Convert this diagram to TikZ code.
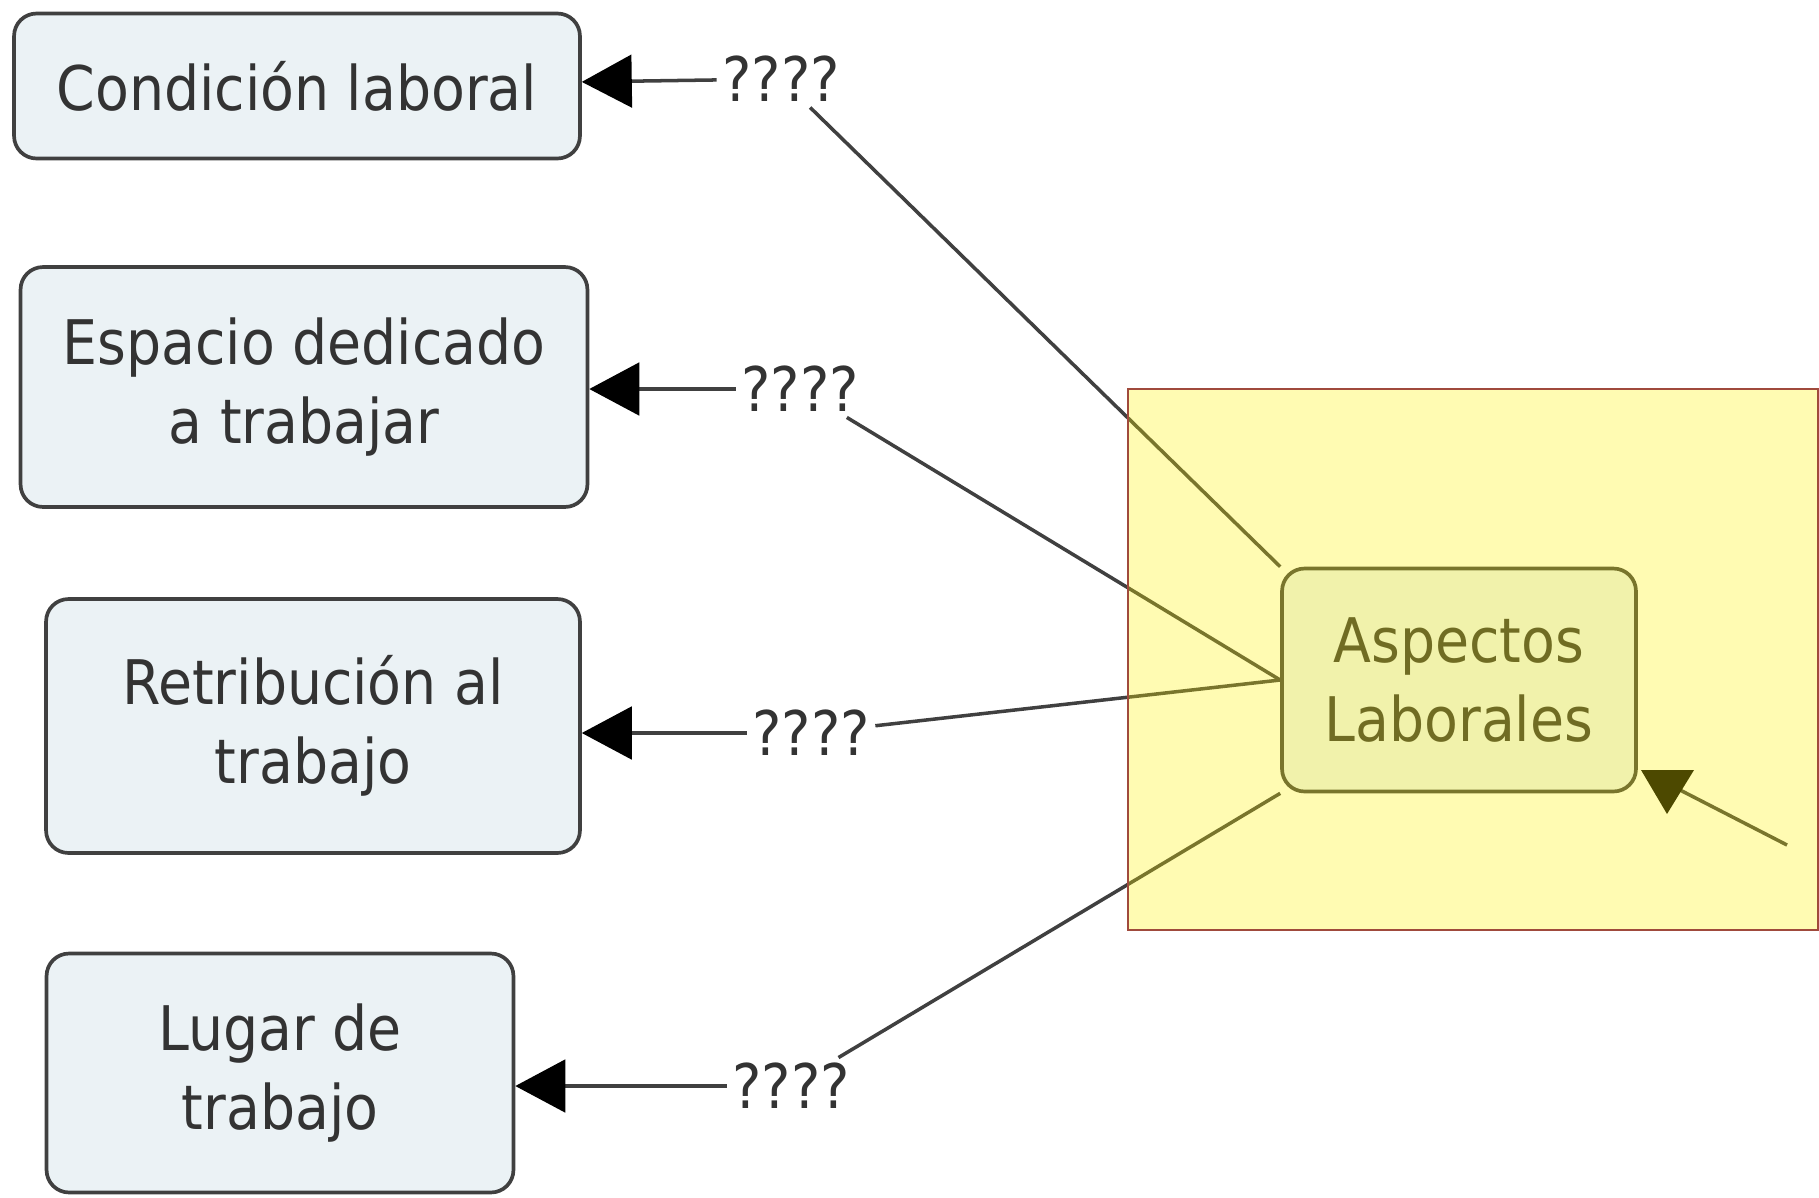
\documentclass[tikz,border=0pt]{standalone}
\usepackage{fontspec}
\setmainfont{DejaVu Sans Condensed}
\usetikzlibrary{arrows.meta}
\definecolor{boxfill}{HTML}{EBF2F5}
\definecolor{boxline}{HTML}{404040}
\definecolor{txtgray}{HTML}{333333}
\definecolor{framered}{HTML}{A04A3C}
\tikzset{
  concept/.style={draw=boxline, fill=boxfill, line width=2.1pt, rounded corners=0.45cm,
    align=center, text=txtgray, font=\fontsize{35}{45}\selectfont},
  linkword/.style={fill=white, inner sep=3pt, text=txtgray, font=\fontsize{35}{45}\selectfont},
  link/.style={draw=boxline, line width=2pt},
  linkarrow/.style={link, -{Triangle[length=1cm,width=1.05cm,fill=black,color=black]}},
}
\begin{document}
\begin{tikzpicture}[x=0.02cm, y=-0.02cm]
    \useasboundingbox (0,0) rectangle (1819,1197);

    % concepts on the left
    \node[concept, minimum width=11.32cm, minimum height=2.9cm] (cond) at (297,86) {Condición laboral};
    \node[concept, minimum width=11.34cm, minimum height=4.8cm] (espacio) at (304,387) {Espacio dedicado\\a trabajar};
    \node[concept, minimum width=10.68cm, minimum height=5.08cm] (retrib) at (313,726) {Retribución al\\trabajo};
    \node[concept, minimum width=9.34cm, minimum height=4.78cm] (lugar) at (280,1073) {Lugar de\\trabajo};

    % main concept
    \node[concept, minimum width=7.08cm, minimum height=4.46cm] (asp) at (1459,680) {Aspectos\\Laborales};

    % linking words
    \node[linkword] (q1) at (781,79) {????};
    \node[linkword] (q2) at (800,389) {????};
    \node[linkword] (q3) at (811,733) {????};
    \node[linkword] (q4) at (791,1086) {????};

    % connectors
    \draw[link] (asp.north west) -- (q1);
    \draw[link] (asp.west) -- (q2);
    \draw[link] (asp.west) -- (q3);
    \draw[link] (asp.south west) -- (q4);
    \draw[linkarrow] (q1) -- (cond);
    \draw[linkarrow] (q2.west) -- (q2.west -| espacio.east);
    \draw[linkarrow] (q3.west) -- (q3.west -| retrib.east);
    \draw[linkarrow] (q4.west) -- (q4.west -| lugar.east);

    % incoming link from outside
    \coordinate (inFrom) at (1787,845);
    \coordinate (inTip) at (1667,814);
    \draw[link] (inFrom) -- (1680,790);
    \fill[black] (inTip) -- ++(-26,-44) -- ++(53,0) -- cycle;

    % highlight frame
    \fill[yellow, fill opacity=0.3] (1128,389) rectangle (1818,930);
    \draw[framered, line width=1.3pt] (1128,389) rectangle (1818,930);
\end{tikzpicture}
\end{document}
